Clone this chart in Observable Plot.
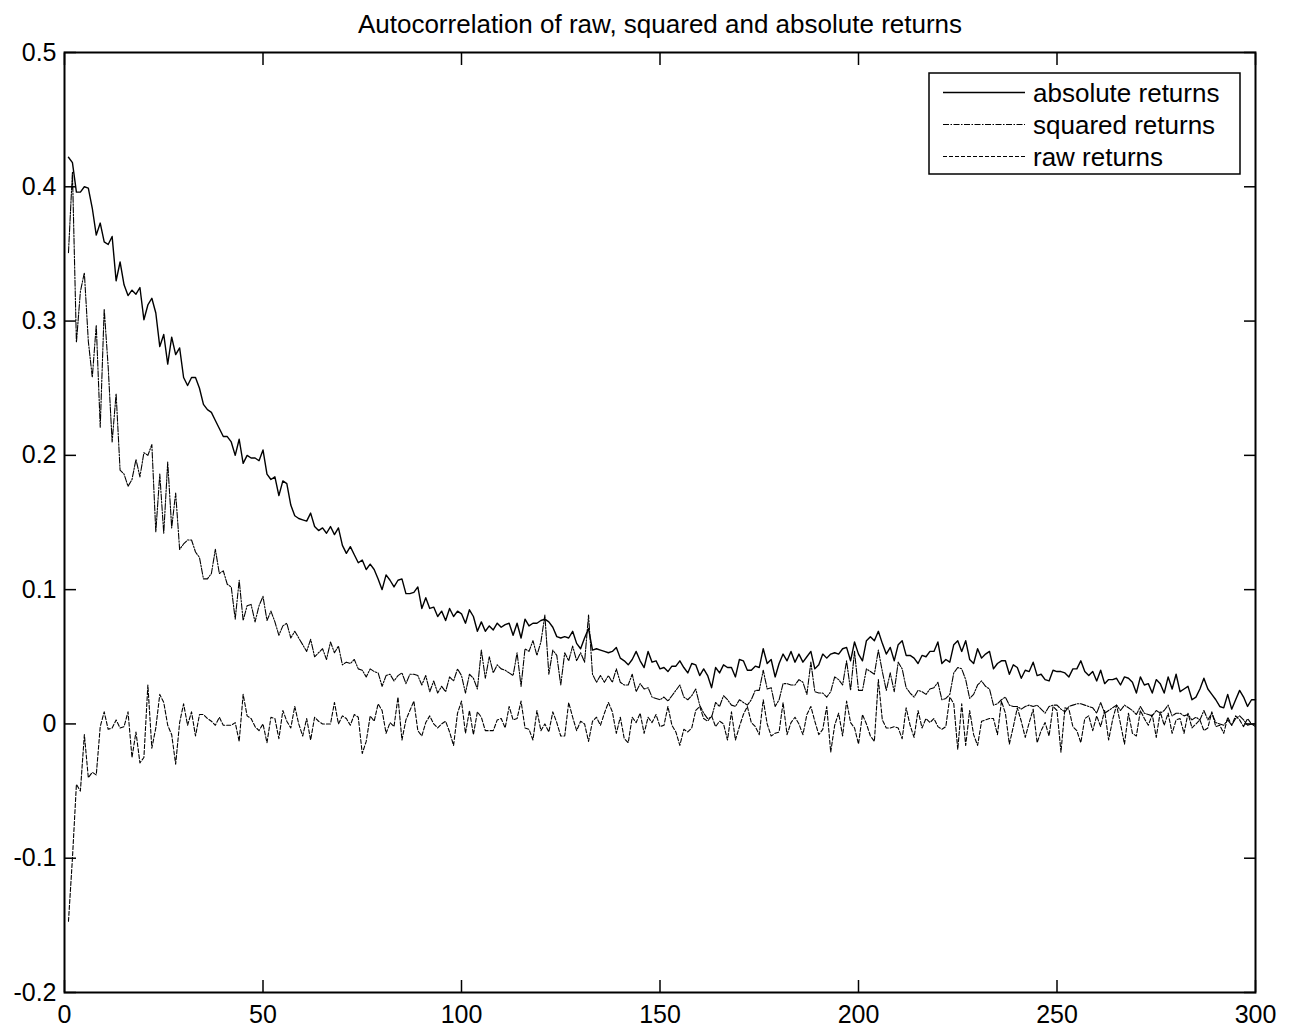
<!DOCTYPE html>
<html>
<head>
<meta charset="utf-8">
<script src="https://cdn.jsdelivr.net/npm/d3@7"></script>
<script src="https://cdn.jsdelivr.net/npm/@observablehq/plot@0.6"></script>
<style>
  html, body { margin: 0; padding: 0; background: #fff; }
  #wrap { position: relative; width: 1294px; height: 1032px; font-family: "Liberation Sans", Arial, Helvetica, sans-serif; }
  #legend { position: absolute; left: 928px; top: 72px; }
</style>
</head>
<body>
<div id="wrap"></div>
<script>
const title = "Autocorrelation of raw, squared and absolute returns";
const seriesNames = ["absolute returns", "squared returns", "raw returns"];
const xTicks = [0, 50, 100, 150, 200, 250, 300];
const yTicks = [-0.2, -0.1, 0, 0.1, 0.2, 0.3, 0.4, 0.5];

const absoluteReturns = [
0.422,0.418,0.396,0.396,0.400,0.399,0.384,0.364,0.373,0.359,
0.357,0.363,0.330,0.344,0.327,0.319,0.323,0.320,0.325,0.301,
0.312,0.317,0.306,0.281,0.290,0.268,0.288,0.275,0.280,0.258,
0.252,0.258,0.258,0.250,0.238,0.234,0.232,0.226,0.220,0.214,
0.214,0.210,0.200,0.212,0.194,0.200,0.198,0.198,0.196,0.204,
0.186,0.182,0.184,0.170,0.181,0.179,0.163,0.155,0.153,0.152,
0.151,0.157,0.147,0.144,0.146,0.142,0.147,0.141,0.146,0.133,
0.127,0.132,0.126,0.120,0.122,0.115,0.119,0.115,0.108,0.100,
0.111,0.107,0.102,0.107,0.108,0.097,0.097,0.098,0.102,0.086,
0.094,0.086,0.087,0.080,0.084,0.077,0.086,0.080,0.084,0.082,
0.075,0.085,0.080,0.069,0.076,0.069,0.073,0.070,0.075,0.072,
0.074,0.075,0.066,0.075,0.064,0.078,0.073,0.075,0.075,0.077,
0.078,0.076,0.072,0.065,0.064,0.065,0.064,0.069,0.060,0.056,
0.064,0.071,0.055,0.056,0.055,0.054,0.053,0.054,0.057,0.049,
0.047,0.044,0.048,0.054,0.047,0.042,0.054,0.046,0.047,0.041,
0.042,0.039,0.043,0.043,0.047,0.042,0.038,0.045,0.044,0.036,
0.041,0.036,0.027,0.042,0.038,0.044,0.042,0.042,0.035,0.048,
0.047,0.040,0.040,0.043,0.042,0.056,0.045,0.048,0.035,0.045,
0.052,0.047,0.054,0.046,0.052,0.046,0.050,0.054,0.041,0.044,
0.052,0.049,0.052,0.053,0.052,0.056,0.057,0.047,0.061,0.052,
0.047,0.062,0.065,0.062,0.069,0.060,0.052,0.057,0.047,0.059,
0.062,0.051,0.051,0.049,0.045,0.051,0.050,0.054,0.054,0.061,
0.045,0.048,0.046,0.059,0.062,0.054,0.062,0.048,0.045,0.056,
0.049,0.052,0.054,0.041,0.045,0.047,0.047,0.037,0.044,0.042,
0.034,0.040,0.039,0.046,0.036,0.037,0.033,0.032,0.040,0.039,
0.039,0.038,0.035,0.041,0.041,0.047,0.039,0.036,0.039,0.032,
0.040,0.030,0.033,0.033,0.034,0.029,0.035,0.034,0.031,0.023,
0.035,0.029,0.030,0.023,0.033,0.030,0.023,0.035,0.026,0.037,
0.024,0.026,0.028,0.018,0.020,0.026,0.034,0.026,0.022,0.018,
0.013,0.012,0.022,0.011,0.018,0.025,0.020,0.013,0.018,0.018
];

const squaredReturns = [
0.351,0.411,0.284,0.322,0.336,0.285,0.258,0.297,0.221,0.309,
0.266,0.210,0.246,0.189,0.186,0.177,0.182,0.197,0.184,0.202,
0.200,0.208,0.143,0.186,0.142,0.195,0.146,0.172,0.130,0.134,
0.137,0.137,0.128,0.124,0.108,0.108,0.112,0.130,0.112,0.114,
0.104,0.102,0.078,0.107,0.077,0.088,0.089,0.076,0.088,0.095,
0.077,0.084,0.076,0.066,0.073,0.075,0.064,0.069,0.064,0.059,
0.054,0.063,0.050,0.053,0.056,0.048,0.061,0.053,0.058,0.044,
0.046,0.045,0.048,0.041,0.040,0.035,0.041,0.039,0.038,0.028,
0.036,0.037,0.032,0.036,0.038,0.030,0.037,0.037,0.036,0.029,
0.036,0.024,0.032,0.023,0.028,0.024,0.035,0.032,0.041,0.036,
0.023,0.037,0.034,0.026,0.055,0.034,0.050,0.038,0.044,0.041,
0.040,0.038,0.036,0.053,0.028,0.056,0.054,0.062,0.051,0.061,
0.081,0.037,0.055,0.051,0.029,0.053,0.047,0.058,0.047,0.053,
0.046,0.081,0.037,0.031,0.036,0.031,0.036,0.031,0.041,0.031,
0.029,0.029,0.037,0.024,0.030,0.026,0.027,0.020,0.019,0.018,
0.020,0.017,0.021,0.025,0.029,0.020,0.018,0.021,0.026,0.014,
0.008,0.004,0.005,0.016,0.013,0.021,0.018,0.014,0.013,0.018,
0.016,0.014,0.018,0.025,0.025,0.040,0.026,0.027,0.013,0.018,
0.030,0.030,0.029,0.029,0.033,0.031,0.022,0.046,0.024,0.023,
0.023,0.020,0.024,0.035,0.033,0.029,0.047,0.025,0.054,0.025,
0.025,0.041,0.039,0.037,0.055,0.039,0.025,0.038,0.024,0.046,
0.041,0.027,0.023,0.020,0.025,0.024,0.022,0.026,0.027,0.031,
0.018,0.019,0.022,0.038,0.042,0.041,0.033,0.019,0.022,0.029,
0.032,0.028,0.026,0.014,0.015,0.018,0.020,0.014,0.013,0.013,
0.011,0.013,0.014,0.013,0.014,0.011,0.008,0.013,0.014,0.014,
0.011,0.009,0.013,0.014,0.015,0.015,0.014,0.013,0.012,0.008,
0.016,0.008,0.010,0.012,0.014,0.010,0.014,0.012,0.010,0.007,
0.013,0.008,0.007,0.006,0.010,0.008,0.010,0.014,0.006,0.008,
0.008,0.006,0.007,0.003,0.005,0.003,0.010,0.003,0.008,0.001,
0.000,-0.001,0.003,-0.001,0.004,0.006,0.003,-0.001,0.000,0.000
];

const rawReturns = [
-0.147,-0.100,-0.045,-0.050,-0.008,-0.040,-0.036,-0.038,-0.002,0.009,
-0.004,-0.003,0.003,-0.003,-0.002,0.009,-0.025,-0.006,-0.029,-0.025,
0.029,-0.018,-0.003,0.022,0.016,-0.001,-0.008,-0.030,0.001,0.015,
-0.001,0.009,-0.009,0.007,0.007,0.004,0.002,-0.001,0.005,-0.001,
-0.001,-0.001,0.001,-0.013,0.022,0.006,0.004,-0.002,-0.005,0.000,
-0.014,0.005,0.004,-0.011,0.010,0.002,-0.003,0.013,0.000,-0.009,
0.004,-0.012,0.005,0.002,0.000,0.000,0.000,0.016,0.000,0.006,
0.004,-0.001,0.007,0.005,-0.022,-0.013,0.006,0.002,0.015,0.010,
-0.007,0.001,-0.002,0.020,-0.012,0.003,0.010,0.017,-0.005,-0.009,
0.001,0.006,0.000,-0.003,0.000,0.002,-0.006,-0.016,0.008,0.017,
-0.007,0.010,-0.008,0.009,0.005,-0.005,-0.005,-0.005,0.003,0.004,
-0.003,0.013,0.003,0.004,0.017,-0.003,-0.004,-0.012,0.010,-0.005,
0.000,-0.006,0.009,0.001,-0.009,-0.009,0.016,0.005,-0.005,0.002,
0.000,-0.013,0.002,0.005,-0.001,0.008,0.016,0.009,-0.007,0.005,
-0.011,-0.014,0.005,0.001,0.008,-0.007,0.005,0.001,0.007,-0.002,
-0.001,0.013,-0.001,-0.006,-0.016,-0.004,-0.006,-0.003,0.010,0.013,
0.004,0.002,0.006,-0.002,0.002,0.000,-0.012,0.009,-0.012,-0.002,
0.007,0.013,0.001,-0.002,-0.008,0.018,0.000,-0.009,-0.007,-0.006,
0.016,-0.008,0.001,0.005,0.000,-0.008,0.007,0.013,0.002,-0.008,
-0.004,0.013,-0.021,-0.001,0.008,-0.009,0.017,0.001,-0.003,-0.015,
0.007,0.000,-0.009,-0.013,0.033,0.003,-0.003,-0.003,-0.002,-0.003,
-0.011,0.012,-0.001,-0.010,0.010,-0.003,0.004,0.001,0.004,-0.002,
-0.004,-0.002,0.020,0.015,-0.019,0.015,-0.016,0.010,-0.008,-0.016,
0.002,0.003,0.004,0.004,-0.008,0.017,0.008,-0.015,-0.002,0.012,
0.002,-0.010,0.001,0.011,-0.014,-0.005,0.001,-0.009,0.013,0.010,
-0.021,0.012,0.011,-0.002,-0.005,-0.014,0.004,0.006,-0.005,0.006,
-0.002,0.010,-0.012,0.003,0.014,0.000,-0.015,0.008,-0.007,-0.009,
0.010,0.004,-0.001,0.007,-0.010,0.009,-0.001,0.008,-0.007,0.003,
0.004,-0.007,0.008,-0.003,0.000,0.003,-0.005,-0.003,0.009,-0.002,
-0.001,-0.007,0.005,-0.001,0.006,0.003,-0.002,0.004,0.000,-0.002
];

const lags = d3.range(1, absoluteReturns.length + 1);

const styles = [
  {strokeWidth: 1.4, dash: null},
  {strokeWidth: 1.1, dash: "6,1.5,1.5,1.5"},
  {strokeWidth: 1.1, dash: "4,2"}
];
const seriesValues = [absoluteReturns, squaredReturns, rawReturns];

const fmt = d => String(d);
const blank = () => "";

const chart = Plot.plot({
  width: 1294,
  height: 1032,
  marginLeft: 64,
  marginRight: 39,
  marginTop: 52,
  marginBottom: 40,
  x: {domain: [0, 300]},
  y: {domain: [-0.2, 0.5]},
  style: {fontFamily: "'Liberation Sans', Arial, Helvetica, sans-serif", fontSize: "25px", background: "#fff", color: "#000"},
  marks: [
    ...seriesValues.map((vals, i) => Plot.lineY(vals, {
      x: (d, j) => lags[j], y: d => d,
      stroke: "#000", strokeWidth: styles[i].strokeWidth,
      strokeDasharray: styles[i].dash
    })),
    Plot.axisX({anchor: "bottom", ticks: xTicks, tickSize: 0, tickPadding: 13, tickFormat: fmt, label: null}),
    Plot.axisX({anchor: "bottom", ticks: xTicks, tickSize: -12, tickFormat: blank, label: null, strokeWidth: 1.5}),
    Plot.axisX({anchor: "top", ticks: xTicks, tickSize: -12, tickFormat: blank, label: null, strokeWidth: 1.5}),
    Plot.axisY({anchor: "left", ticks: yTicks, tickSize: 0, tickPadding: 8, tickFormat: fmt, label: null}),
    Plot.axisY({anchor: "left", ticks: yTicks, tickSize: -12, tickFormat: blank, label: null, strokeWidth: 1.5}),
    Plot.axisY({anchor: "right", ticks: yTicks, tickSize: -12, tickFormat: blank, label: null, strokeWidth: 1.5}),
    Plot.frame({stroke: "#000", strokeWidth: 2}),
    Plot.text([title], {text: d => d, frameAnchor: "top", lineAnchor: "middle", dy: -28, fontSize: 26, fill: "#000"})
  ]
});

const wrap = document.getElementById("wrap");
wrap.appendChild(chart);

// legend overlay
const lw = 313, lh = 103;
const legend = d3.create("svg").attr("id", "legend").attr("width", lw).attr("height", lh);
legend.append("rect").attr("x", 1).attr("y", 1).attr("width", lw - 2).attr("height", lh - 2)
  .attr("fill", "#fff").attr("stroke", "#000").attr("stroke-width", 1.5);
seriesNames.forEach((name, i) => {
  const cy = 20.5 + i * 32;
  legend.append("line").attr("x1", 15).attr("x2", 97).attr("y1", cy).attr("y2", cy)
    .attr("stroke", "#000").attr("stroke-width", styles[i].strokeWidth)
    .attr("stroke-dasharray", styles[i].dash);
  legend.append("text").attr("x", 105).attr("y", cy).attr("dy", "0.35em")
    .attr("font-family", "'Liberation Sans', Arial, Helvetica, sans-serif")
    .attr("font-size", 26).attr("fill", "#000").text(name);
});
wrap.appendChild(legend.node());
</script>
</body>
</html>
